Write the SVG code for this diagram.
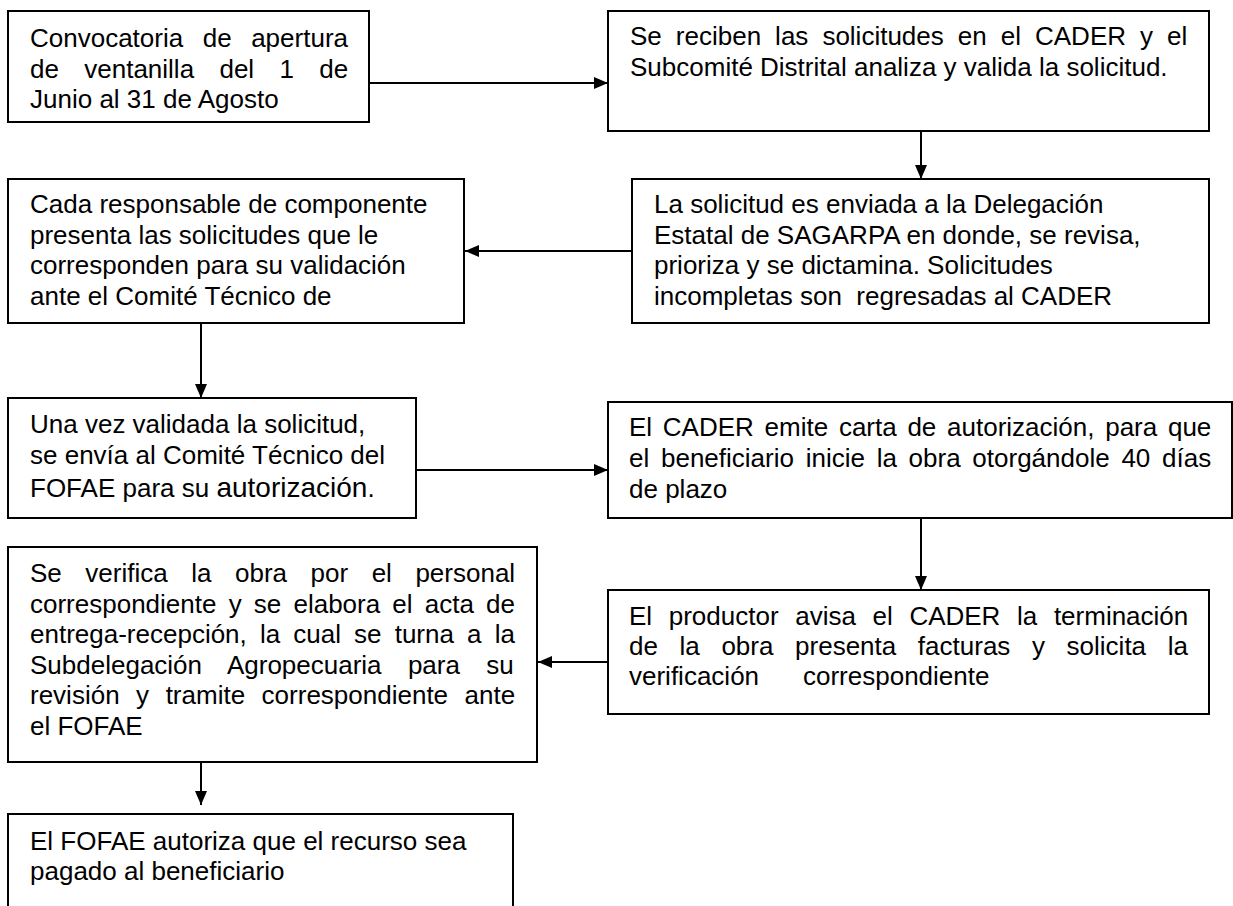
<svg xmlns="http://www.w3.org/2000/svg" width="1233" height="906" viewBox="0 0 1233 906">
<style>
  .box{fill:#fff;stroke:#000;stroke-width:2}
  .t{font-family:"Liberation Sans",Arial,sans-serif;font-size:26px;fill:#000;white-space:pre}
  .big{font-size:28px}
  .con{stroke:#000;stroke-width:2;fill:none}
</style>
<defs>
  <marker id="ah" viewBox="0 0 14 12" refX="14" refY="6" markerWidth="14" markerHeight="12" markerUnits="userSpaceOnUse" orient="auto">
    <path d="M0,0 L14,6 L0,12 Z" fill="#000"/>
  </marker>
</defs>
<rect width="1233" height="906" fill="#fff"/>

<g id="connectors">
  <line class="con" x1="369" y1="83" x2="608" y2="83" marker-end="url(#ah)"/>
  <line class="con" x1="921" y1="131" x2="921" y2="179" marker-end="url(#ah)"/>
  <line class="con" x1="632" y1="251" x2="465" y2="251" marker-end="url(#ah)"/>
  <line class="con" x1="201" y1="323" x2="201" y2="398" marker-end="url(#ah)"/>
  <line class="con" x1="416" y1="470" x2="608" y2="470" marker-end="url(#ah)"/>
  <line class="con" x1="921" y1="518" x2="921" y2="590" marker-end="url(#ah)"/>
  <line class="con" x1="608" y1="662" x2="538" y2="662" marker-end="url(#ah)"/>
  <line class="con" x1="201" y1="762" x2="201" y2="805" marker-end="url(#ah)"/>
</g>

<g id="n1">
  <rect class="box" x="8" y="11" width="361" height="111"/>
  <text class="t" x="30" y="47" word-spacing="12.3">Convocatoria de apertura</text>
  <text class="t" x="30" y="77.5" word-spacing="18.1">de ventanilla del 1 de</text>
  <text class="t" x="30" y="108">Junio al 31 de Agosto</text>
</g>

<g id="n2">
  <rect class="box" x="608" y="11" width="601" height="120"/>
  <text class="t" x="630" y="45" word-spacing="6.8">Se reciben las solicitudes en el CADER y el</text>
  <text class="t" x="630" y="76">Subcomité Distrital analiza y valida la solicitud.</text>
</g>

<g id="n3">
  <rect class="box" x="632" y="179" width="577" height="144"/>
  <text class="t" x="654" y="213">La solicitud es enviada a la Delegación</text>
  <text class="t" x="654" y="243.5">Estatal de SAGARPA en donde, se revisa,</text>
  <text class="t" x="654" y="274">prioriza y se dictamina. Solicitudes</text>
  <text class="t" x="654" y="304.5">incompletas son  regresadas al CADER</text>
</g>

<g id="n4">
  <rect class="box" x="8" y="179" width="456" height="144"/>
  <text class="t" x="30" y="213">Cada responsable de componente</text>
  <text class="t" x="30" y="243.5">presenta las solicitudes que le</text>
  <text class="t" x="30" y="274">corresponden para su validación</text>
  <text class="t" x="30" y="304.5">ante el Comité Técnico de</text>
</g>

<g id="n5">
  <rect class="box" x="8" y="398" width="408" height="120"/>
  <text class="t" x="30" y="433">Una vez validada la solicitud,</text>
  <text class="t" x="30" y="464">se envía al Comité Técnico del</text>
  <text class="t" x="30" y="497">FOFAE para su <tspan class="big">autorización</tspan>.</text>
</g>

<g id="n6">
  <rect class="box" x="608" y="402" width="624" height="116"/>
  <text class="t" x="629" y="436" word-spacing="3.5">El CADER emite carta de autorización, para que</text>
  <text class="t" x="629" y="467" word-spacing="4.5">el beneficiario inicie la obra otorgándole 40 días</text>
  <text class="t" x="629" y="498">de plazo</text>
</g>

<g id="n7">
  <rect class="box" x="608" y="590" width="601" height="124"/>
  <text class="t" x="629" y="625" word-spacing="9.4">El productor avisa el CADER la terminación</text>
  <text class="t" x="629" y="655" word-spacing="14.4">de la obra presenta facturas y solicita la</text>
  <text class="t" x="629" y="685">verificación<tspan x="803">correspondiente</tspan></text>
</g>

<g id="n8">
  <rect class="box" x="8" y="547" width="529" height="215"/>
  <text class="t" x="30" y="582" word-spacing="16.3">Se verifica la obra por el personal</text>
  <text class="t" x="30" y="612.5" word-spacing="4.95">correspondiente y se elabora el acta de</text>
  <text class="t" x="30" y="643" word-spacing="5.9">entrega-recepción, la cual se turna a la</text>
  <text class="t" x="30" y="673.5" word-spacing="19.1">Subdelegación Agropecuaria para su</text>
  <text class="t" x="30" y="704" word-spacing="9.3">revisión y tramite correspondiente ante</text>
  <text class="t" x="30" y="734.5">el FOFAE</text>
</g>

<g id="n9">
  <rect class="box" x="8" y="814" width="505" height="110"/>
  <text class="t" x="30" y="850">El FOFAE autoriza que el recurso sea</text>
  <text class="t" x="30" y="880">pagado al beneficiario</text>
</g>
</svg>
